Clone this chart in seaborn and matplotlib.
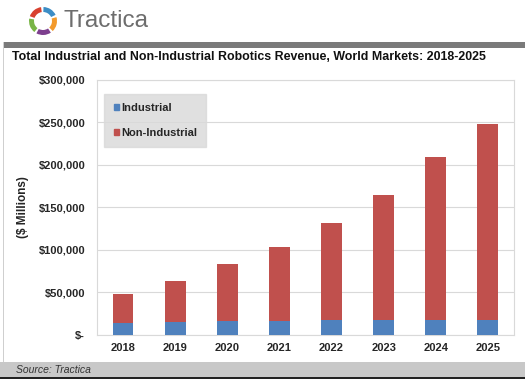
import pandas as pd
import seaborn as sns
import matplotlib.pyplot as plt
import matplotlib.patches as mpatches
from matplotlib.ticker import FuncFormatter
from matplotlib.transforms import Affine2D

years = ["2018", "2019", "2020", "2021", "2022", "2023", "2024", "2025"]
industrial = [14300, 15500, 15900, 17000, 17300, 17300, 18200, 18200]
non_industrial = [34400, 48500, 68100, 86500, 114400, 147700, 190800, 229800]

df = pd.DataFrame({"year": years, "Industrial": industrial, "Non-Industrial": non_industrial})
df["total"] = df["Industrial"] + df["Non-Industrial"]

blue = "#4f81bd"
red = "#c0504d"

sns.set_theme(style="white")
plt.rcParams["font.family"] = ["Liberation Sans", "DejaVu Sans"]

fig = plt.figure(figsize=(5.25, 3.79), dpi=100)
ax = fig.add_axes([0.1848, 0.1161, 0.794, 0.673])

# stacked bars: total in red, industrial drawn over it in blue
sns.barplot(data=df, x="year", y="total", color=red, width=0.4, saturation=1,
            linewidth=0, ax=ax, zorder=3)
sns.barplot(data=df, x="year", y="Industrial", color=blue, width=0.4, saturation=1,
            linewidth=0, ax=ax, zorder=4)

ax.set_ylim(0, 300000)
ax.set_yticks(range(0, 300001, 50000))
ax.yaxis.set_major_formatter(FuncFormatter(lambda v, p: "$-" if v == 0 else "${:,.0f}".format(v)))
ax.grid(axis="y", color="#d9d9d9", linewidth=0.8, zorder=0)
ax.set_axisbelow(True)
for s in ax.spines.values():
    s.set_color("#d9d9d9")
    s.set_linewidth(0.8)
ax.tick_params(axis="y", length=0, labelsize=8, pad=8.5)
ax.tick_params(axis="x", length=0, labelsize=8, pad=6)
for lbl in ax.get_xticklabels() + ax.get_yticklabels():
    lbl.set_fontweight("bold")
ax.set_xlabel("")
ax.set_ylabel("($ Millions)", fontsize=8.5, fontweight="bold", labelpad=7)

handles = [mpatches.Patch(color=blue, label="Industrial"),
           mpatches.Patch(color=red, label="Non-Industrial")]
leg = ax.legend(handles=handles, loc="upper left", bbox_to_anchor=(0.004, 0.968),
                frameon=True, fancybox=False, handlelength=0.45, handleheight=0.45,
                handletextpad=0.2, labelspacing=1.3, borderpad=0.85,
                prop={"weight": "bold", "size": 8})
leg.get_frame().set_facecolor("#d9d9d9")
leg.get_frame().set_edgecolor("#d9d9d9")

# pixel based transform for header / footer decoration
px = Affine2D().scale(1 / 525, 1 / 379) + fig.transFigure

# header: logo ring, name, gray rule, title
ring_colors = ["#3c8dc5", "#f39a2b", "#7d3f8e", "#79b547", "#d8412f"]
for i, c in enumerate(ring_colors):
    fig.patches.append(mpatches.Wedge((43, 358), 14, 90 - (i + 1) * 72 + 8, 90 - i * 72 - 2, width=5,
                                      facecolor=c, edgecolor="none", transform=px, figure=fig))
fig.text(64 / 525, 1 - 21 / 379, "Tractica", fontsize=17.5, color="#6d6d6d", va="center", ha="left")
fig.patches.append(mpatches.Rectangle((3, 331), 522, 6, transform=px,
                                      facecolor="#7a7a7a", edgecolor="none", figure=fig))
fig.text(12 / 525, 1 - 57 / 379, "Total Industrial and Non-Industrial Robotics Revenue, World Markets: 2018-2025",
         fontsize=8.9, fontweight="bold", va="center", ha="left", color="#111111")

# footer band and left border
fig.patches.append(mpatches.Rectangle((0, 0), 525, 17, transform=px,
                                      facecolor="#c8c8c8", edgecolor="none", figure=fig))
fig.patches.append(mpatches.Rectangle((0, 0), 525, 2, transform=px,
                                      facecolor="#222222", edgecolor="none", figure=fig))
fig.patches.append(mpatches.Rectangle((3, 17), 1, 320, transform=px,
                                      facecolor="#cfcfcf", edgecolor="none", figure=fig))
fig.text(16 / 525, 9 / 379, "Source: Tractica", fontsize=7.5, style="italic", color="#333333",
         va="center", ha="left")

fig.savefig("out.png", dpi=100)
